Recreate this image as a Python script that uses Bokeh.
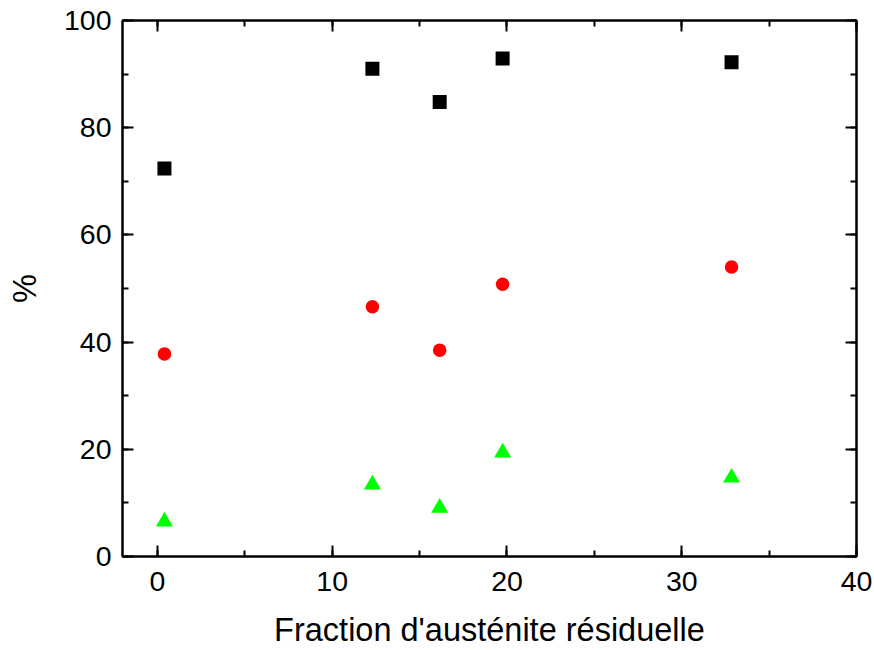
from bokeh.plotting import figure
from bokeh.models import LinearAxis, SingleIntervalTicker, Range1d, CustomJSTickFormatter
from bokeh.embed import file_html
from bokeh.resources import INLINE

# Data
austenite = [0.4, 12.3, 16.15, 19.75, 32.85]
black_sq = [72.4, 91.0, 84.8, 92.9, 92.2]
red_circ = [37.8, 46.6, 38.5, 50.8, 54.0]
green_tri = [6.5, 13.4, 9.1, 19.4, 14.7]

x_label = "Fraction d'austénite résiduelle"
y_label = "%"

FONT = "Liberation Sans"

p = figure(width=874, height=650, output_backend="svg", toolbar_location=None,
           x_range=Range1d(-2, 40), y_range=Range1d(0, 100),
           min_border_left=122, min_border_right=18, min_border_top=20, min_border_bottom=93,
           x_axis_location=None, y_axis_location=None)
p.grid.visible = False
p.outline_line_color = "black"
p.outline_line_width = 2
p.background_fill_color = "white"
p.border_fill_color = "white"

def style(ax, show_labels):
    ax.axis_line_width = 2
    ax.axis_line_color = "black"
    ax.major_tick_line_width = 2
    ax.minor_tick_line_width = 2
    ax.major_tick_in = 11
    ax.major_tick_out = 0
    ax.minor_tick_in = 6
    ax.minor_tick_out = 0
    ax.major_label_text_font = FONT
    ax.axis_label_text_font = FONT
    ax.axis_label_text_font_style = "normal"
    ax.major_label_text_color = "black"
    ax.axis_label_text_color = "black"
    if show_labels:
        ax.major_label_text_font_size = "28.5px"
        ax.axis_label_text_font_size = "32.5px"
    else:
        ax.formatter = CustomJSTickFormatter(code="return ''")
        ax.major_label_text_font_size = "1px"
        ax.major_label_standoff = 0

xb = LinearAxis(ticker=SingleIntervalTicker(interval=10, num_minor_ticks=2), axis_label=x_label)
style(xb, True)
xb.major_label_standoff = 15
xb.axis_label_standoff = 18
p.add_layout(xb, "below")

yl = LinearAxis(ticker=SingleIntervalTicker(interval=20, num_minor_ticks=2), axis_label=y_label)
style(yl, True)
yl.major_label_standoff = 11
yl.axis_label_standoff = 18
p.add_layout(yl, "left")

xt = LinearAxis(ticker=SingleIntervalTicker(interval=10, num_minor_ticks=2))
style(xt, False)
p.add_layout(xt, "above")

yr = LinearAxis(ticker=SingleIntervalTicker(interval=20, num_minor_ticks=2))
style(yr, False)
p.add_layout(yr, "right")

p.scatter(austenite, black_sq, marker="square", size=14, fill_color="black", line_color=None)
p.scatter(austenite, red_circ, marker="circle", size=13.5, fill_color="#FF0000", line_color=None)
p.scatter(austenite, green_tri, marker="triangle", size=17, fill_color="#00FF00", line_color=None)

open("out.html", "w").write(file_html(p, INLINE))
